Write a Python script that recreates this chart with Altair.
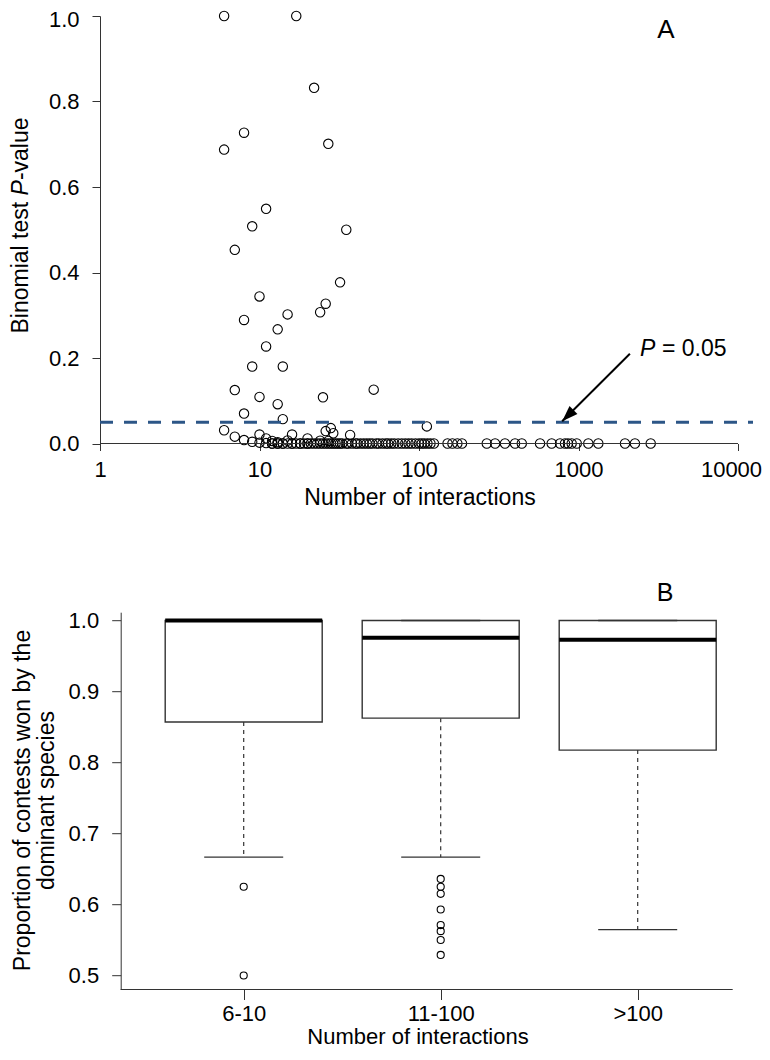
import altair as alt
import pandas as pd

FONT = "Liberation Sans"
INK = "#333333"
BLUE = "#2c5687"

# ---------------- Panel A data (number of interactions vs binomial P) ----------------
a_n_upper = [6, 17, 22, 8, 6, 27, 11, 9, 35, 7,
             10, 32, 8, 24, 26, 15, 13, 11, 9, 14,
             7, 10, 25, 52, 13, 8, 14, 6, 7, 8,
             9, 10, 11, 16, 20, 26, 28, 29, 37, 112,
             12, 13, 15, 24, 27]
a_p_upper = [1.0, 1.0, 0.832, 0.727, 0.6875, 0.701, 0.549, 0.508, 0.500, 0.453,
             0.344, 0.377, 0.289, 0.307, 0.327, 0.302, 0.267, 0.227, 0.180, 0.180,
             0.125, 0.109, 0.108, 0.126, 0.092, 0.070, 0.057, 0.031, 0.016, 0.008,
             0.004, 0.021, 0.012, 0.021, 0.012, 0.029, 0.036, 0.024, 0.020, 0.040,
             0.006, 0.003, 0.007, 0.0066, 0.006]

a_n_zero = [10, 11, 12, 12, 13, 13, 14, 14, 15, 16,
            16, 17, 18, 18, 19, 20, 20, 21, 22, 23,
            24, 25, 26, 27, 28, 29, 30, 31, 32, 33,
            35, 36, 38, 40, 41, 43, 45, 47, 49, 51,
            54, 56, 59, 62, 64, 67, 70, 74, 78, 82,
            86, 90, 95, 100, 104, 108, 113, 118, 124, 151,
            162, 174, 186, 266, 300, 346, 400, 441, 574, 679,
            766, 823, 859, 906, 975, 1152, 1331, 1957, 2259, 2836]
a_p_zero = [0.002, 0.001, 0.0, 0.0, 0.0, 0.0, 0.0, 0.0, 0.0, 0.0,
            0.0, 0.0, 0.0, 0.0, 0.0, 0.0, 0.0, 0.0, 0.0, 0.0,
            0.0, 0.0, 0.0, 0.0, 0.0, 0.0, 0.0, 0.0, 0.0, 0.0,
            0.0, 0.0, 0.0, 0.0, 0.0, 0.0, 0.0, 0.0, 0.0, 0.0,
            0.0, 0.0, 0.0, 0.0, 0.0, 0.0, 0.0, 0.0, 0.0, 0.0,
            0.0, 0.0, 0.0, 0.0, 0.0, 0.0, 0.0, 0.0, 0.0, 0.0,
            0.0, 0.0, 0.0, 0.0, 0.0, 0.0, 0.0, 0.0, 0.0, 0.0,
            0.0, 0.0, 0.0, 0.0, 0.0, 0.0, 0.0, 0.0, 0.0, 0.0]

a_xticks = [1, 10, 100, 1000, 10000]
a_yticks = [0.0, 0.2, 0.4, 0.6, 0.8, 1.0]
threshold = 0.05
arrow_n = [2100, 790]      # tail, tip
arrow_p = [0.21, 0.052]

# ---------------- Panel B data (box plots) ----------------
b_cats = ["6-10", "11-100", ">100"]
b_pos = [1, 2, 3]
b_q1 = [0.857, 0.8625, 0.8175]
b_med = [1.0, 0.9756, 0.9728]
b_q3 = [1.0, 1.0, 1.0]
b_lo = [0.6667, 0.6667, 0.5645]
b_hi = [1.0, 1.0, 1.0]
b_out_group = [1, 1, 2, 2, 2, 2, 2, 2, 2, 2]
b_out_val = [0.625, 0.5, 0.636, 0.625, 0.615, 0.593, 0.571, 0.5625, 0.55, 0.529]
b_yticks = [0.5, 0.6, 0.7, 0.8, 0.9, 1.0]

# ---------------- geometry ----------------
DEC = 159.5                      # px per decade in panel A
A_W, A_H = 653, 427.5
A_XMAX = 10 ** (A_W / DEC)
B_STEP = 197.0                   # px per category in panel B
B_W, B_H = 632.7, 377.3
B_X0 = 1 - 143.7 / B_STEP
B_X1 = B_X0 + B_W / B_STEP
B_AXIS_X = B_X0 + 20.7 / B_STEP
B_Y0, B_Y1 = 0.5 - 14 / 710, 1.0 + 8.3 / 710
SVG_W, SVG_H = 754, 1040
PAD_L, PAD_T = 92, 8
GAP = 611.7 - 8 - PAD_T - A_H

one = pd.DataFrame({"k": [0]})

def txt(s, x, y, size=23, angle=0, align="center", baseline="alphabetic", style="normal"):
    return alt.Chart(one).mark_text(
        text=s, fontSize=size, angle=angle, align=align, baseline=baseline,
        fontStyle=style, font=FONT, color="black"
    ).encode(x=alt.value(x), y=alt.value(y))

# ---------------- Panel A ----------------
dfA = pd.DataFrame({"n": a_n_upper + a_n_zero, "p": a_p_upper + a_p_zero})
xA = alt.Scale(type="log", domain=[1, A_XMAX], nice=False, padding=0)
yA = alt.Scale(domain=[0, 1], nice=False, zero=False, padding=0)
xA_axis = alt.Axis(values=a_xticks, format="d", title=None, grid=False, domain=False,
                   tickSize=7, labelPadding=9, labelFlush=False, labelOverlap=False,
                   labelOffset={"condition": {"test": "datum.value == 10000", "value": -7}, "value": 0})
yA_axis = alt.Axis(values=a_yticks, format=".1f", title=None, grid=False,
                   tickSize=8, labelPadding=13, labelFlush=False, labelOverlap=False,
                   labelOffset={"condition": {"test": "datum.value == 1", "value": 3}, "value": 0})

def XA(v):
    return alt.XDatum(v, type="quantitative", scale=xA, axis=xA_axis)

def YA(v):
    return alt.YDatum(v, type="quantitative", scale=yA, axis=yA_axis)

pointsA = alt.Chart(dfA).mark_point(
    shape="circle", filled=False, size=88, color="black", strokeWidth=1.1, opacity=1
).encode(
    x=alt.X("n:Q", scale=xA, axis=xA_axis),
    y=alt.Y("p:Q", scale=yA, axis=yA_axis),
)
baseA = alt.Chart(one).mark_rule(color=INK, strokeWidth=1).encode(
    x=XA(a_xticks[0]), x2=alt.X2Datum(a_xticks[-1]), y=YA(0),
)
dashA = alt.Chart(one).mark_rule(color=BLUE, strokeWidth=3, strokeDash=[13, 11]).encode(
    x=XA(1), x2=alt.X2Datum(A_XMAX), y=YA(threshold),
)
arrowLine = alt.Chart(one).mark_rule(color="black", strokeWidth=2).encode(
    x=XA(arrow_n[0]), x2=alt.X2Datum(arrow_n[1]),
    y=YA(arrow_p[0]), y2=alt.Y2Datum(arrow_p[1]),
)
arrowHead = alt.Chart(one).mark_point(
    shape="M0,0 L0.7,2 L-0.7,2 Z", filled=True, color="black", size=256,
    angle=225, opacity=1, strokeWidth=0
).encode(x=XA(arrow_n[1]), y=YA(arrow_p[1]))

w_first = 6.002 * 23   # width of "Binomial test "
w_P = 0.667 * 23
ytitle_start = 317.5
panelA = alt.layer(
    pointsA, baseA, dashA, arrowLine, arrowHead,
    txt("Binomial test", -72, ytitle_start, angle=270, align="left"),
    txt("P", -72, ytitle_start - w_first, angle=270, align="left", style="italic"),
    txt("-value", -72, ytitle_start - w_first - w_P, angle=270, align="left"),
    txt("Number of interactions", 320, 482, baseline="middle"),
    txt("A", 566, 21.5, size=26),
    txt("P", 540, 340, align="left", style="italic"),
    txt("= 0.05", 562, 340, align="left"),
).properties(width=A_W, height=A_H)

# ---------------- Panel B ----------------
dfB = pd.DataFrame({"pos": b_pos, "q1": b_q1, "med": b_med, "q3": b_q3, "lo": b_lo, "hi": b_hi})
dfO = pd.DataFrame({"pos": b_out_group, "val": b_out_val})
xB = alt.Scale(domain=[B_X0, B_X1], nice=False, zero=False, padding=0)
yB = alt.Scale(domain=[B_Y0, B_Y1], nice=False, zero=False, padding=0)

label_expr = " : ".join(
    f"datum.value == {p} ? '{c}'" for p, c in zip(b_pos[:-1], b_cats[:-1])
) + f" : '{b_cats[-1]}'"

xB_axis = alt.Axis(values=b_pos, labelExpr=label_expr, title=None, domain=False, grid=False,
                   tickSize=10, labelPadding=4, labelFlush=False, labelOverlap=False)
yB_axis = alt.Axis(values=b_yticks, format=".1f", title=None, grid=False, offset=-20.7,
                   tickSize=9, labelPadding=13, labelFlush=False, labelOverlap=False)

def XB(f):
    return alt.X(f, type="quantitative", scale=xB, axis=xB_axis)

def YB(f):
    return alt.Y(f, type="quantitative", scale=yB, axis=yB_axis)

whisk = alt.Chart(dfB).mark_rule(color=INK, strokeWidth=1.2, strokeDash=[4, 4]).encode(
    x=XB("pos"), y=YB("q1"), y2="lo:Q",
)
boxes = alt.Chart(dfB).mark_bar(size=157, fill="white", stroke=INK, strokeWidth=1.4).encode(
    x=XB("pos"), y=YB("q1"), y2="q3:Q",
)
capsLo = alt.Chart(dfB).mark_tick(orient="horizontal", size=79, thickness=1.3, color=INK, opacity=1).encode(
    x=XB("pos"), y=YB("lo"),
)
capsHi = alt.Chart(dfB).mark_tick(orient="horizontal", size=79, thickness=1.6, color=INK, opacity=1).encode(
    x=XB("pos"), y=YB("hi"),
)
medians = alt.Chart(dfB).mark_tick(orient="horizontal", size=157, thickness=4, color="black", opacity=1).encode(
    x=XB("pos"), y=YB("med"),
)
outl = alt.Chart(dfO).mark_point(shape="circle", filled=False, size=50, color="black",
                                 strokeWidth=1.1, opacity=1).encode(
    x=XB("pos"), y=YB("val"),
)
baseB = alt.Chart(one).mark_rule(color=INK, strokeWidth=1).encode(
    x=alt.XDatum(B_AXIS_X, type="quantitative", scale=xB, axis=xB_axis),
    x2=alt.X2Datum(B_X1),
    y=alt.YDatum(B_Y0, type="quantitative", scale=yB, axis=yB_axis),
)

panelB = alt.layer(
    whisk, boxes, capsLo, capsHi, medians, outl, baseB,
    txt("Proportion of contests won by the", -70.5, 188.3, angle=270),
    txt("dominant species", -46.5, 188.3, angle=270),
    txt("Number of interactions", 318, 431.8, size=22),
    txt("B", 565, -11, size=25),
).properties(width=B_W, height=B_H)

chart = alt.vconcat(panelA, panelB, spacing=GAP, bounds="flush").properties(
    padding={"left": PAD_L, "top": PAD_T, "right": SVG_W - PAD_L, "bottom": SVG_H - PAD_T},
    autosize=alt.AutoSizeParams(type="none"),
).configure(font=FONT).configure_view(stroke=None).configure_axis(
    labelFont=FONT, labelColor="black", labelFontSize=22, tickColor=INK,
    domainColor=INK, tickWidth=1, domainWidth=1, grid=False
).configure_scale(continuousPadding=0)

chart.save("out.html", embed_options={"renderer": "svg", "actions": False})
